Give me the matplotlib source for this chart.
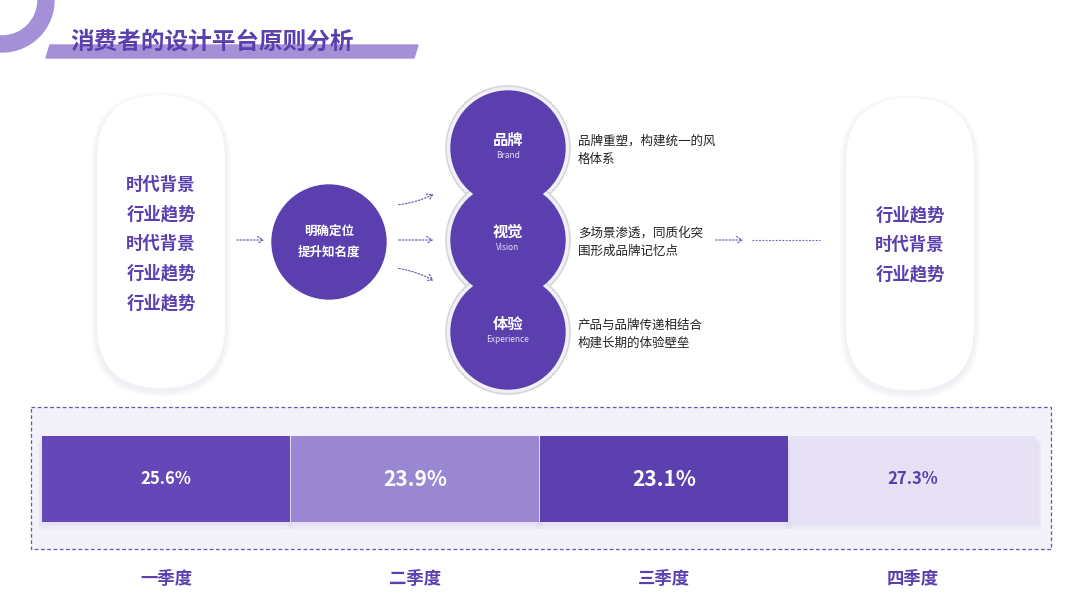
import numpy as np
import matplotlib as mplt
mplt.use("Agg")
import matplotlib.pyplot as plt
from matplotlib.patches import Circle, FancyBboxPatch, Rectangle, Polygon, Wedge, FancyArrowPatch

plt.rcParams['font.family'] = ['Noto Sans CJK SC', 'DejaVu Sans']

PURPLE = "#5B3FAE"

title = "消费者的设计平台原则分析"
left_items = ["时代背景", "行业趋势", "时代背景", "行业趋势", "行业趋势"]
right_items = ["行业趋势", "时代背景", "行业趋势"]
center_lines = ["明确定位", "提升知名度"]
pillars = ["品牌", "视觉", "体验"]
pillars_en = ["Brand", "Vision", "Experience"]
pillar_desc = [["品牌重塑，构建统一的风", "格体系"],
               ["多场景渗透，同质化突", "围形成品牌记忆点"],
               ["产品与品牌传递相结合", "构建长期的体验壁垒"]]
quarters = ["一季度", "二季度", "三季度", "四季度"]
shares = [25.6, 23.9, 23.1, 27.3]
bar_colors = ["#6647B8", "#9A87D2", "#5C40AF", "#E6E1F4"]
text_colors = ["white", "white", "white", "#5B3FAE"]
text_sizes = [12, 15, 15, 12]

fig = plt.figure(figsize=(10.8, 6.08), dpi=100)
ax = fig.add_axes([0, 0, 1, 1])
ax.set_xlim(0, 1080)
ax.set_ylim(608, 0)
ax.axis("off")

# decoration top-left
ax.add_patch(Wedge((2, 0), 52, 0, 360, width=16, color="#A390D6"))
ax.add_patch(Polygon([[50, 45], [418, 45], [414, 58], [46, 58]], closed=True, color="#A390D6"))
ax.text(70, 42, title, fontsize=17, fontweight="bold", color=PURPLE, va="center")

# pills
def pill(x0, x1, y0, y1):
    w = x1 - x0
    for k in range(6, 0, -1):
        ax.add_patch(FancyBboxPatch((x0 - k, y0 - k + 3), w + 2 * k, y1 - y0 + 2 * k,
                                    boxstyle=f"round,pad=0,rounding_size={w / 2 + k}",
                                    fc="#D8D4E6", ec="none", alpha=0.06, mutation_aspect=1))
    ax.add_patch(FancyBboxPatch((x0, y0), w, y1 - y0,
                                boxstyle=f"round,pad=0,rounding_size={w / 2}",
                                fc="white", ec="none"))

pill(97, 225, 95, 388)
pill(846, 974, 98, 390)
for i, s in enumerate(left_items):
    ax.text(161, 185 + i * 29.5, s, fontsize=12.5, fontweight="bold", color=PURPLE, ha="center", va="center")
for i, s in enumerate(right_items):
    ax.text(910, 215 + i * 29.5, s, fontsize=12.5, fontweight="bold", color=PURPLE, ha="center", va="center")

# centre circle
ax.add_patch(Circle((329, 242), 57, color=PURPLE))
for i, s in enumerate(center_lines):
    ax.text(329, 232 + i * 20, s, fontsize=9, fontweight="bold", color="white", ha="center", va="center")

def arrow(p0, p1, rad=0.0):
    ax.add_patch(FancyArrowPatch(p0, p1, connectionstyle=f"arc3,rad={rad}", arrowstyle="->,head_length=4,head_width=2.5",
                                 color="#6A55B5", lw=0.8, linestyle=(0, (1.5, 1.5))))

arrow((234, 240), (267, 240))
arrow((396, 205), (436, 193), 0.1)
arrow((396, 240), (436, 240))
arrow((396, 268), (436, 282), -0.1)
arrow((713, 240), (746, 240))
ax.plot([752, 820], [240, 240], color="#6A55B5", lw=0.8, ls=(0, (1.5, 1.5)))

# pillar circles
ys = [148, 240, 332]
for y in ys:
    ax.add_patch(Circle((508, y), 62, fc="#F1F0F5", ec="#D6D4DE", lw=1.2))
for y, p, e, d in zip(ys, pillars, pillars_en, pillar_desc):
    ax.add_patch(Circle((508, y), 57, color=PURPLE))
    ax.text(508, y - 8, p, fontsize=11, fontweight="bold", color="white", ha="center", va="center")
    ax.text(508, y + 8, e, fontsize=6, color="#E6E0F6", ha="center", va="center")
    for j, s in enumerate(d):
        ax.text(578, y - 6 + j * 18 + (-1 if True else 0), s, fontsize=9, color="#222222", va="center")

# bottom panel
ax.add_patch(Rectangle((31, 407), 1020, 142, fc="#F3F1FA", ec="#6A55B5", lw=0.9, ls=(0, (3, 2))))
xs = np.arange(len(quarters)) * 249 + 42 + 124
for k in range(8, 0, -1):
    ax.bar(xs, [86] * 4, width=249 + k, bottom=437 + k * 0.8, color="#D9D3EE", alpha=0.07, align="center")
ax.bar(xs, [86] * 4, width=[248, 248, 248, 246], bottom=436, color=bar_colors, align="center")
for x, v, c, fs in zip(xs, shares, text_colors, text_sizes):
    ax.text(x, 479, f"{v}%", fontsize=fs, fontweight="bold", color=c, ha="center", va="center")
for x, q in zip(xs, quarters):
    ax.text(x, 579, q, fontsize=12.5, fontweight="bold", color=PURPLE, ha="center", va="center")

fig.savefig("out.png", dpi=100)
